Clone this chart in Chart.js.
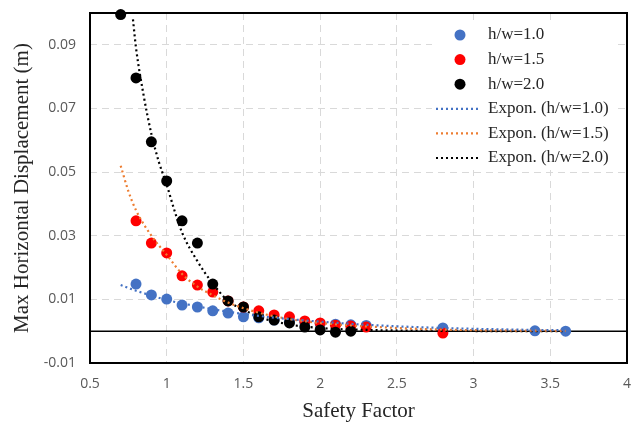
<!DOCTYPE html>
<html>
<head>
<meta charset="utf-8">
<script src="https://cdn.jsdelivr.net/npm/chart.js@4.4.1/dist/chart.umd.min.js"></script>
<style>
  html, body { margin: 0; padding: 0; background: #fff; }
  #wrap { width: 633px; height: 424px; }
</style>
</head>
<body>
<div id="wrap"><canvas id="grafico"></canvas></div>
<script>
// Datos
const sf10 = [0.8, 0.9, 1.0, 1.1, 1.2, 1.3, 1.4, 1.5, 1.6, 1.7, 1.8, 1.9, 2.0, 2.1, 2.2, 2.3, 2.8, 3.4, 3.6];
const desp10 = [0.0148, 0.0114, 0.0101, 0.0082, 0.0076, 0.0064, 0.0057, 0.0045, 0.0042, 0.0035, 0.0031, 0.0027, 0.0024, 0.0022, 0.002, 0.0018, 0.001, 0.0001, 0.0];

const sf15 = [0.8, 0.9, 1.0, 1.1, 1.2, 1.3, 1.4, 1.5, 1.6, 1.7, 1.8, 1.9, 2.0, 2.1, 2.2, 2.3, 2.8];
const desp15 = [0.0347, 0.0277, 0.0246, 0.0174, 0.0145, 0.0123, 0.0095, 0.0076, 0.0064, 0.0051, 0.0045, 0.0032, 0.0026, 0.0019, 0.0016, 0.0013, -0.0006];

const sf20 = [0.7, 0.8, 0.9, 1.0, 1.1, 1.2, 1.3, 1.4, 1.5, 1.6, 1.7, 1.8, 1.9, 2.0, 2.1, 2.2];
const desp20 = [0.0995, 0.0796, 0.0595, 0.0472, 0.0347, 0.0277, 0.0148, 0.0095, 0.0076, 0.0045, 0.0035, 0.0026, 0.0013, 0.0004, -0.0003, 0.0];

// Líneas de tendencia (Expon.)
const tendX10 = [0.7, 0.8, 0.9, 1.0, 1.2, 1.4, 1.6, 1.8, 2.0, 2.3, 2.8, 3.4, 3.6];
const tendY10 = [0.0145, 0.0127, 0.0112, 0.0098, 0.0078, 0.0061, 0.0048, 0.0038, 0.003, 0.002, 0.001, 0.0004, 0.0003];

const tendX15 = [0.7, 0.75, 0.8, 0.9, 1.0, 1.1, 1.2, 1.3, 1.4, 1.6, 1.8, 2.0, 2.3, 2.8, 3.6];
const tendY15 = [0.052, 0.044, 0.038, 0.030, 0.024, 0.018, 0.014, 0.0113, 0.009, 0.0058, 0.0038, 0.0026, 0.0015, 0.0005, 0.0001];

const tendX20 = [0.78, 0.8, 0.85, 0.9, 0.95, 1.0, 1.05, 1.1, 1.2, 1.3, 1.4, 1.5, 1.6, 1.8, 2.0, 2.3, 2.8, 3.6];
const tendY20 = [0.098, 0.089, 0.074, 0.062, 0.053, 0.046, 0.038, 0.031, 0.022, 0.015, 0.0095, 0.0068, 0.0045, 0.0021, 0.001, 0.0004, 0.0001, 0.0];

// Marcas de los ejes
const xTicks = [0.5, 1, 1.5, 2, 2.5, 3, 3.5, 4];
const yTicks = [-0.01, 0.01, 0.03, 0.05, 0.07, 0.09];

const pares = (xs, ys) => xs.map((x, i) => ({ x: x, y: ys[i] }));

const serie = (label, xs, ys, color, orden) => ({
    label: label,
    data: pares(xs, ys),
    backgroundColor: color,
    borderColor: color,
    pointRadius: 5.5,
    pointHoverRadius: 5.5,
    borderWidth: 0,
    showLine: false,
    clip: false,
    order: orden,
});

const tendencia = (label, xs, ys, color) => ({
    label: label,
    data: pares(xs, ys),
    borderColor: color,
    backgroundColor: color,
    showLine: true,
    pointRadius: 0,
    borderWidth: 2.2,
    borderDash: [2, 3],
    cubicInterpolationMode: "monotone",
    order: 0,
});

// Línea en cero y marco del área de trazado
const marco = {
    id: "marco",
    beforeDatasetsDraw(chart) {
        const { ctx, chartArea } = chart;
        const y0 = chart.scales.y.getPixelForValue(0);
        ctx.save();
        ctx.strokeStyle = "#000";
        ctx.lineWidth = 1.5;
        ctx.beginPath();
        ctx.moveTo(chartArea.left, y0);
        ctx.lineTo(chartArea.right, y0);
        ctx.stroke();
        ctx.restore();
    },
    afterDatasetsDraw(chart) {
        const { ctx, chartArea } = chart;
        ctx.save();
        ctx.strokeStyle = "#000";
        ctx.lineWidth = 2;
        ctx.strokeRect(chartArea.left, chartArea.top, chartArea.right - chartArea.left, chartArea.bottom - chartArea.top);

        // Leyenda dentro del área
        const lx = 432, ly = 22, filas = 24.6;
        ctx.fillStyle = "#fff";
        ctx.fillRect(lx, ly, 182, 148);
        ctx.font = "17px 'Liberation Serif', 'Times New Roman', serif";
        ctx.textBaseline = "middle";
        chart.data.datasets.forEach((ds, i) => {
            const y = 35 + i * filas;
            if (ds.showLine) {
                ctx.strokeStyle = ds.borderColor;
                ctx.lineWidth = 2.2;
                ctx.setLineDash([2, 3]);
                ctx.beginPath();
                ctx.moveTo(436, y);
                ctx.lineTo(481, y);
                ctx.stroke();
                ctx.setLineDash([]);
            } else {
                ctx.fillStyle = ds.backgroundColor;
                ctx.beginPath();
                ctx.arc(460, y, 5.5, 0, Math.PI * 2);
                ctx.fill();
            }
            ctx.fillStyle = "#262626";
            ctx.fillText(ds.label, 488, y);
        });
        ctx.restore();
    },
};

const ctx = document.getElementById("grafico").getContext("2d");
const grafico = new Chart(ctx, {
    type: "scatter",
    data: {
        datasets: [
            serie("h/w=1.0", sf10, desp10, "#4472C4", 3),
            serie("h/w=1.5", sf15, desp15, "#FF0000", 2),
            serie("h/w=2.0", sf20, desp20, "#000000", 1),
            tendencia("Expon. (h/w=1.0)", tendX10, tendY10, "#4472C4"),
            tendencia("Expon. (h/w=1.5)", tendX15, tendY15, "#ED7D31"),
            tendencia("Expon. (h/w=2.0)", tendX20, tendY20, "#000000"),
        ],
    },
    options: {
        responsive: true,
        maintainAspectRatio: false,
        animation: false,
        layout: { padding: { top: 13, right: 6, left: 0, bottom: 0 } },
        plugins: {
            legend: { display: false },
            tooltip: { enabled: false },
        },
        scales: {
            x: {
                type: "linear",
                min: 0.5,
                max: 4,
                afterBuildTicks: (eje) => { eje.ticks = xTicks.map((v) => ({ value: v })); },
                afterFit: (eje) => {
                    eje.height = 61;
                    eje.paddingLeft = 0;
                    eje.paddingRight = 0;
                },
                grid: { color: "#d9d9d9", lineWidth: 1, drawTicks: false },
                border: { display: false, dash: [7, 5] },
                ticks: {
                    padding: 13,
                    color: "#595959",
                    font: { family: "'Open Sans', sans-serif", size: 14 },
                    callback: (v) => String(Number(v)),
                },
                title: {
                    display: true,
                    text: "Safety Factor",
                    color: "#262626",
                    font: { family: "'Liberation Serif', 'Times New Roman', serif", size: 21 },
                    padding: { top: 0, bottom: 0 },
                },
            },
            y: {
                type: "linear",
                min: -0.01,
                max: 0.1,
                afterBuildTicks: (eje) => { eje.ticks = yTicks.map((v) => ({ value: v })); },
                afterFit: (eje) => {
                    eje.width = 90;
                    eje.paddingTop = 0;
                    eje.paddingBottom = 0;
                },
                grid: { color: "#d9d9d9", lineWidth: 1, drawTicks: false },
                border: { display: false, dash: [7, 5] },
                ticks: {
                    padding: 14,
                    color: "#595959",
                    font: { family: "'Open Sans', sans-serif", size: 14 },
                    callback: (v) => Number(v).toFixed(2),
                },
                title: {
                    display: true,
                    text: "Max Horizontal Displacement (m)",
                    color: "#262626",
                    font: { family: "'Liberation Serif', 'Times New Roman', serif", size: 21 },
                    padding: { top: 10, bottom: 0 },
                },
            },
        },
    },
    plugins: [marco],
});
</script>
</body>
</html>
